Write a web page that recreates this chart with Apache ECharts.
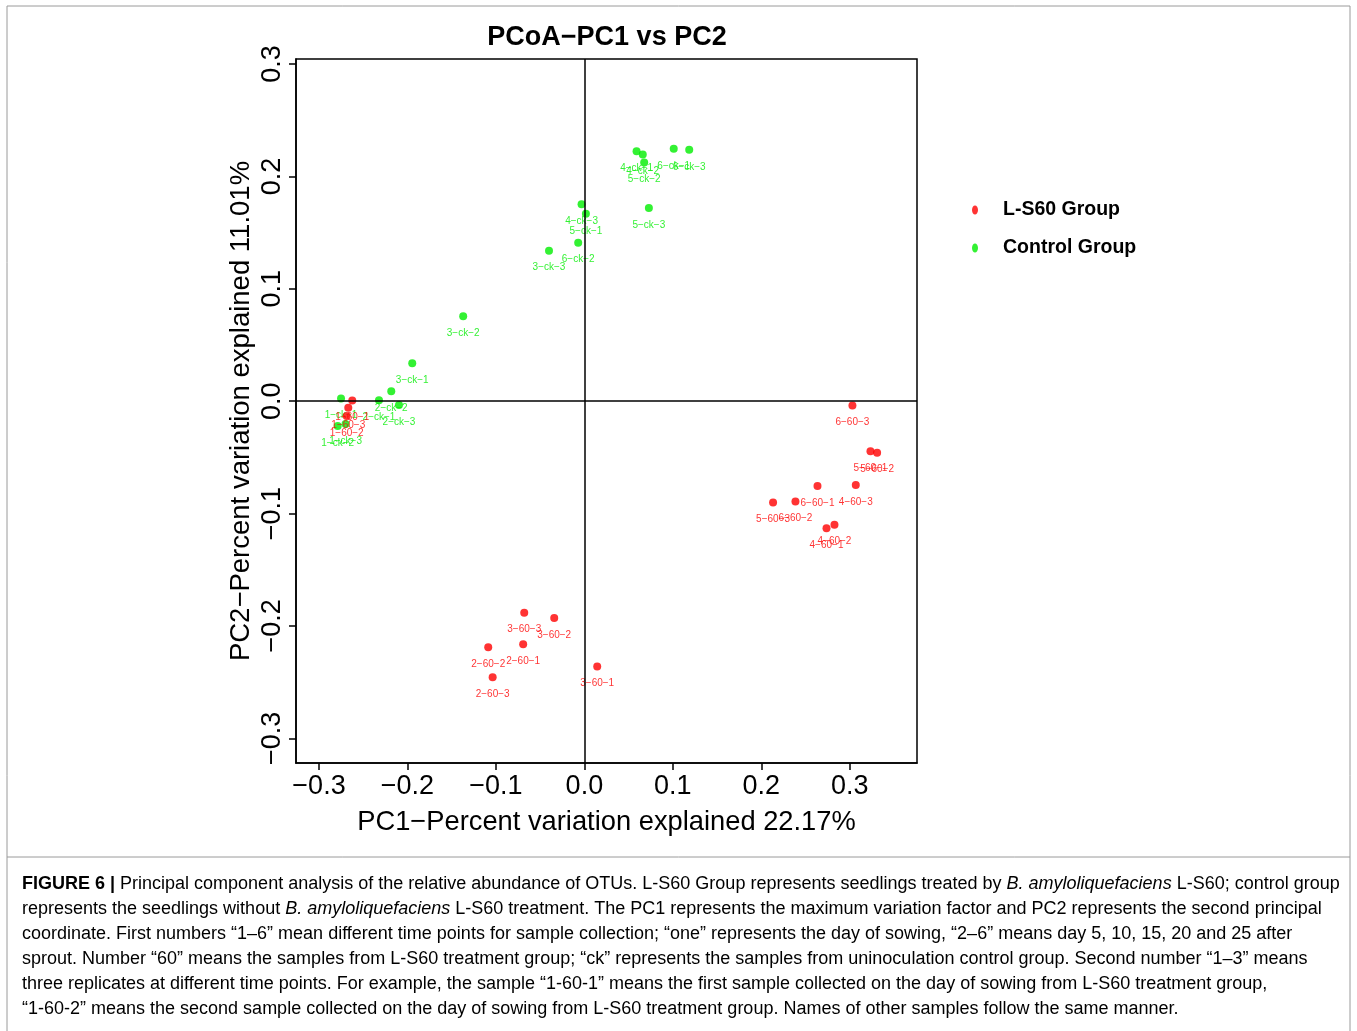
<!DOCTYPE html>
<html>
<head>
<meta charset="utf-8">
<script src="https://cdn.jsdelivr.net/npm/echarts@6/dist/echarts.min.js"></script>
<style>html,body{margin:0;padding:0;background:#fff;}#c{width:1357px;height:1031px;}</style>
</head>
<body>
<div id="c"></div>
<script>
// ---- Data ----
const lsNames = ['1-60-1','1-60-2','1-60-3','2-60-1','2-60-2','2-60-3','3-60-1','3-60-2','3-60-3','4-60-1','4-60-2','4-60-3','5-60-1','5-60-2','5-60-3','6-60-1','6-60-2','6-60-3'];
const lsPC1 = [-0.2624,-0.2687,-0.2669,-0.0692,-0.1087,-0.1037,0.0145,-0.0341,-0.0680,0.2737,0.2827,0.3068,0.3234,0.3309,0.2133,0.2635,0.2386,0.3030];
const lsPC2 = [0.0006,-0.0133,-0.0059,-0.2163,-0.2190,-0.2456,-0.2361,-0.1930,-0.1882,-0.1132,-0.1099,-0.0745,-0.0446,-0.0458,-0.0901,-0.0754,-0.0892,-0.0038];

const ckNames = ['1-ck-1','1-ck-2','1-ck-3','2-ck-1','2-ck-2','2-ck-3','3-ck-1','3-ck-2','3-ck-3','4-ck-1','4-ck-2','4-ck-3','5-ck-1','5-ck-2','5-ck-3','6-ck-1','6-ck-2','6-ck-3'];
const ckPC1 = [-0.2751,-0.2789,-0.2700,-0.2322,-0.2183,-0.2096,-0.1946,-0.1370,-0.0400,0.0590,0.0660,-0.0032,0.0017,0.0676,0.0729,0.1010,-0.0070,0.1185];
const ckPC2 = [0.0024,-0.0222,-0.0204,0.0009,0.0089,-0.0035,0.0337,0.0756,0.1339,0.2225,0.2196,0.1753,0.1667,0.2125,0.1720,0.2246,0.1410,0.2237];

const xTicks = [-0.3,-0.2,-0.1,0.0,0.1,0.2,0.3];
const yTicks = [-0.3,-0.2,-0.1,0.0,0.1,0.2,0.3];

const titleText = 'PCoA\u2212PC1 vs PC2';
const xName = 'PC1\u2212Percent variation explained 22.17%';
const yName = 'PC2\u2212Percent variation explained 11.01%';
const groupNames = ['L-S60 Group','Control Group'];

const captionLines = [
  [['b','FIGURE 6 | '],['n','Principal component analysis of the relative abundance of OTUs. L-S60 Group represents seedlings treated by '],['i','B. amyloliquefaciens'],['n',' L-S60; control group']],
  [['n','represents the seedlings without '],['i','B. amyloliquefaciens'],['n',' L-S60 treatment. The PC1 represents the maximum variation factor and PC2 represents the second principal']],
  [['n','coordinate. First numbers \u201c1\u20136\u201d mean different time points for sample collection; \u201cone\u201d represents the day of sowing, \u201c2\u20136\u201d means day 5, 10, 15, 20 and 25 after']],
  [['n','sprout. Number \u201c60\u201d means the samples from L-S60 treatment group; \u201cck\u201d represents the samples from uninoculation control group. Second number \u201c1\u20133\u201d means']],
  [['n','three replicates at different time points. For example, the sample \u201c1-60-1\u201d means the first sample collected on the day of sowing from L-S60 treatment group,']],
  [['n','\u201c1-60-2\u201d means the second sample collected on the day of sowing from L-S60 treatment group. Names of other samples follow the same manner.']]
];

// ---- Build ----
const FONT = '"Liberation Sans", Arial, Helvetica, sans-serif';
const RED = '#ff0000', GREEN = '#00ee00';
const fmtTick = v => (v < 0 ? '\u2212' : '') + Math.abs(v).toFixed(1);
const mk = (names, xs, ys) => names.map((n, i) => ({ name: n, value: [xs[i], ys[i]] }));
const ellipse = 'path://M3,0 C4.66,0 6,2.01 6,4.5 C6,6.99 4.66,9 3,9 C1.34,9 0,6.99 0,4.5 C0,2.01 1.34,0 3,0 Z';

const CAP = 18;
const capRich = {
  n: { fontFamily: FONT, fontSize: CAP, color: '#231f20' },
  b: { fontFamily: FONT, fontSize: CAP, fontWeight: 'bold', color: '#231f20' },
  i: { fontFamily: FONT, fontSize: CAP, fontStyle: 'italic', color: '#231f20' }
};
const captionGraphics = captionLines.map((segs, k) => ({
  type: 'text', left: 22, top: 875 + k * 25, silent: true,
  style: { text: segs.map(s => '{' + s[0] + '|' + s[1] + '}').join(''), rich: capRich, fontFamily: FONT, fontSize: CAP }
}));

const labelCfg = color => ({
  show: true, position: 'bottom', distance: 8, fontSize: 10, fontFamily: FONT, color: color,
  formatter: p => p.name.replace(/-/g, '\u2212')
});

const chart = echarts.init(document.getElementById('c'), null, { renderer: 'canvas' });
chart.setOption({
  animation: false,
  backgroundColor: '#fff',
  title: {
    text: titleText, left: 602, top: 19, textAlign: 'center',
    textStyle: { fontFamily: FONT, fontSize: 27, fontWeight: 'bold', color: '#000' }
  },
  legend: {
    orient: 'vertical', left: 967, top: 195, itemGap: 18,
    itemWidth: 46, itemHeight: 9, symbolKeepAspect: true,
    data: [{ name: groupNames[0], icon: ellipse }, { name: groupNames[1], icon: ellipse }],
    textStyle: { fontFamily: FONT, fontSize: 19.5, fontWeight: 'bold', color: '#000' }
  },
  grid: { left: 296, top: 59, width: 621, height: 704, show: true, borderColor: '#000', borderWidth: 1.5, backgroundColor: 'transparent' },
  xAxis: {
    type: 'value', min: -0.326, max: 0.376,
    name: xName, nameLocation: 'middle', nameGap: 46,
    nameTextStyle: { fontFamily: FONT, fontSize: 27.3, color: '#000' },
    axisLine: { show: true, onZero: false, lineStyle: { color: '#000', width: 1.5 } },
    axisTick: { show: true, length: 7, inside: false, customValues: xTicks, lineStyle: { color: '#000', width: 1.5 } },
    axisLabel: { customValues: xTicks, margin: 10, fontFamily: FONT, fontSize: 27, color: '#000', formatter: fmtTick },
    splitLine: { show: false }
  },
  yAxis: {
    type: 'value', min: -0.322, max: 0.3045,
    name: yName, nameLocation: 'middle', nameGap: 41, nameRotate: 90,
    nameTextStyle: { fontFamily: FONT, fontSize: 27.5, color: '#000' },
    axisLine: { show: true, onZero: false, lineStyle: { color: '#000', width: 1.5 } },
    axisTick: { show: true, length: 7, inside: false, customValues: yTicks, lineStyle: { color: '#000', width: 1.5 } },
    axisLabel: { customValues: yTicks, rotate: 90, margin: 10, fontFamily: FONT, fontSize: 27, color: '#000', formatter: fmtTick },
    splitLine: { show: false }
  },
  series: [
    {
      name: groupNames[1], type: 'scatter', symbol: 'circle', symbolSize: 8,
      itemStyle: { color: GREEN }, label: labelCfg(GREEN),
      data: mk(ckNames, ckPC1, ckPC2),
      markLine: {
        silent: true, symbol: 'none', animation: false,
        label: { show: false },
        lineStyle: { color: '#000', width: 1.5, type: 'solid' },
        data: [{ xAxis: 0 }, { yAxis: 0 }]
      },
      z: 3
    },
    {
      name: groupNames[0], type: 'scatter', symbol: 'circle', symbolSize: 8,
      itemStyle: { color: RED }, label: labelCfg(RED),
      data: mk(lsNames, lsPC1, lsPC2), z: 4
    }
  ],
  graphic: [
    { type: 'rect', silent: true, shape: { x: 7, y: 6, width: 1343, height: 1040 }, style: { fill: 'none', stroke: '#9a9a9a', lineWidth: 1 } },
    { type: 'line', silent: true, shape: { x1: 7, y1: 857, x2: 1350, y2: 857 }, style: { stroke: '#9a9a9a', lineWidth: 1 } }
  ].concat(captionGraphics)
});
</script>
</body>
</html>
